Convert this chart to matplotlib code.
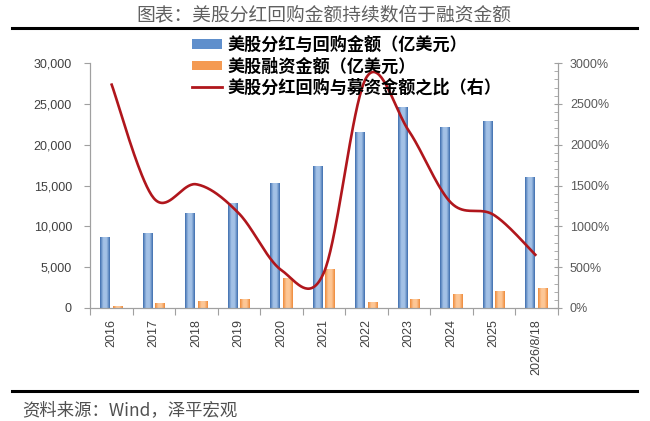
import numpy as np
import matplotlib
matplotlib.use("Agg")
import matplotlib.pyplot as plt
from matplotlib.colors import LinearSegmentedColormap
from matplotlib.lines import Line2D
from matplotlib.patches import Patch
from matplotlib.ticker import FuncFormatter, MultipleLocator

plt.rcParams['font.family'] = ['Noto Sans CJK SC', 'DejaVu Sans']

years = ['2016', '2017', '2018', '2019', '2020', '2021', '2022', '2023', '2024', '2025', '2026/8/18']
buyback = [8730, 9220, 11600, 12800, 15300, 17400, 21500, 24650, 22200, 22900, 16000]   # 亿美元
financing = [280, 650, 820, 1100, 3700, 4800, 700, 1140, 1710, 2040, 2450]            # 亿美元
ratio = [2750, 1345, 1515, 1160, 465, 430, 2820, 2170, 1286, 1140, 640]                  # %

name_bar1 = '美股分红与回购金额（亿美元）'
name_bar2 = '美股融资金额（亿美元）'
name_line = '美股分红回购与募资金额之比（右）'

blue_edge, blue_mid = '#3D6DAE', '#A3C1E6'
orange_edge, orange_mid = '#EE8A3A', '#FDC796'
red = '#B0161C'
axis_grey = '#A0A0A0'


def shade(ax, bars, c_edge, c_mid):
    # excel style gradient fill inside every bar
    cmap = LinearSegmentedColormap.from_list('g', [c_edge, c_mid, c_mid, c_edge], N=128)
    grad = np.linspace(0, 1, 64).reshape(1, -1)
    for b in bars:
        x0, y0 = b.get_x(), b.get_y()
        w, h = b.get_width(), b.get_height()
        im = ax.imshow(grad, cmap=cmap, extent=[x0, x0 + w, y0, y0 + h],
                       aspect='auto', interpolation='bilinear', zorder=2.1)
        im.set_clip_path(b)


def smooth(xs, ys, n=40):
    # bezier smoothing like excel's "smoothed line"
    xs = np.asarray(xs, float)
    ys = np.asarray(ys, float)
    px = np.concatenate([[xs[0]], xs, [xs[-1]]])
    py = np.concatenate([[ys[0]], ys, [ys[-1]]])
    t = np.linspace(0, 1, n)
    ox, oy = [], []
    for i in range(len(xs) - 1):
        x0, y0 = px[i + 1], py[i + 1]
        x3, y3 = px[i + 2], py[i + 2]
        x1 = x0 + (px[i + 2] - px[i]) / 6
        y1 = y0 + (py[i + 2] - py[i]) / 6
        x2 = x3 - (px[i + 3] - px[i + 1]) / 6
        y2 = y3 - (py[i + 3] - py[i + 1]) / 6
        a, b, c, d = (1 - t) ** 3, 3 * (1 - t) ** 2 * t, 3 * (1 - t) * t ** 2, t ** 3
        ox.append(a * x0 + b * x1 + c * x2 + d * x3)
        oy.append(a * y0 + b * y1 + c * y2 + d * y3)
    return np.concatenate(ox), np.concatenate(oy)


fig = plt.figure(figsize=(6.5, 4.21), dpi=100)
ax = fig.add_axes([90 / 650, 113 / 421, 467.5 / 650, 245 / 421])
ax2 = ax.twinx()

x = np.arange(len(years))
w = 0.22
bars1 = ax.bar(x - 0.15, buyback, w, color=blue_edge, linewidth=0, zorder=2)
bars2 = ax.bar(x + 0.15, financing, w, color=orange_edge, linewidth=0, zorder=2)
shade(ax, bars1, blue_edge, blue_mid)
shade(ax, bars2, orange_edge, orange_mid)

sx, sy = smooth(x, ratio)
ax2.plot(sx, sy, color=red, lw=1.9, solid_capstyle='butt')

ax.set_xlim(-0.5, len(years) - 0.5)
ax.set_ylim(0, 30000)
ax2.set_ylim(0, 3000)

# left axis
ax.yaxis.set_major_locator(MultipleLocator(5000))
ax.yaxis.set_major_formatter(FuncFormatter(lambda v, p: f'{int(v):,}'))
ax.tick_params(axis='y', direction='out', length=4, width=0.8, color=axis_grey,
               labelsize=9, labelcolor='#404040', pad=9)
for lb in ax.get_yticklabels():
    lb.set_family(['Liberation Sans', 'DejaVu Sans'])

# x axis: ticks between categories
ax.set_xticks(x)
ax.set_xticklabels(years, rotation=90, fontsize=9, color='#404040',
                   family=['Liberation Sans', 'DejaVu Sans'])
ax.set_xticks(np.arange(len(years) + 1) - 0.5, minor=True)
ax.tick_params(axis='x', which='major', length=0, pad=8)
ax.tick_params(axis='x', which='minor', length=5, width=0.8, color=axis_grey, direction='out')

# right axis
ax2.yaxis.set_major_locator(MultipleLocator(500))
ax2.yaxis.set_minor_locator(MultipleLocator(100))
ax2.yaxis.set_major_formatter(FuncFormatter(lambda v, p: f'{int(v)}%'))
ax2.tick_params(axis='y', which='major', direction='inout', length=6, width=0.8,
                color=axis_grey, labelsize=9, labelcolor='#595959', pad=6)
ax2.tick_params(axis='y', which='minor', direction='in', length=3, width=0.6, color=axis_grey)
for lb in ax2.get_yticklabels():
    lb.set_family(['Liberation Sans', 'DejaVu Sans'])

for a in (ax, ax2):
    a.spines['top'].set_visible(False)
    for s in ('left', 'right', 'bottom'):
        a.spines[s].set_color(axis_grey)
        a.spines[s].set_linewidth(0.8)

handles = [Patch(facecolor='#5F8FCC', edgecolor='none'),
           Patch(facecolor='#F49A52', edgecolor='none'),
           Line2D([], [], color=red, lw=2)]
fig.legend(handles, [name_bar1, name_bar2, name_line], loc='upper left',
           bbox_to_anchor=(192 / 650, 1 - 36 / 421), frameon=False,
           prop={'family': ['Noto Sans CJK SC', 'DejaVu Sans'], 'weight': 'bold', 'size': 12.3},
           handlelength=1.75, handleheight=0.45, handletextpad=0.3, labelspacing=0.2,
           borderaxespad=0, borderpad=0)

# header / footer
fig.text(324 / 650, 1 - 15 / 421, '图表：美股分红回购金额持续数倍于融资金额',
         ha='center', va='center', fontsize=13.5, color='#606060')
fig.add_artist(Line2D([12 / 650, 637 / 650], [1 - 28 / 421] * 2, color='black', lw=2.2))
fig.add_artist(Line2D([12 / 650, 637 / 650], [1 - 391 / 421] * 2, color='black', lw=2.2))
fig.text(22 / 650, 1 - 410 / 421, '资料来源：Wind，泽平宏观', ha='left', va='center',
         fontsize=12.5, color='#505050')

fig.savefig('out.png', dpi=100)
